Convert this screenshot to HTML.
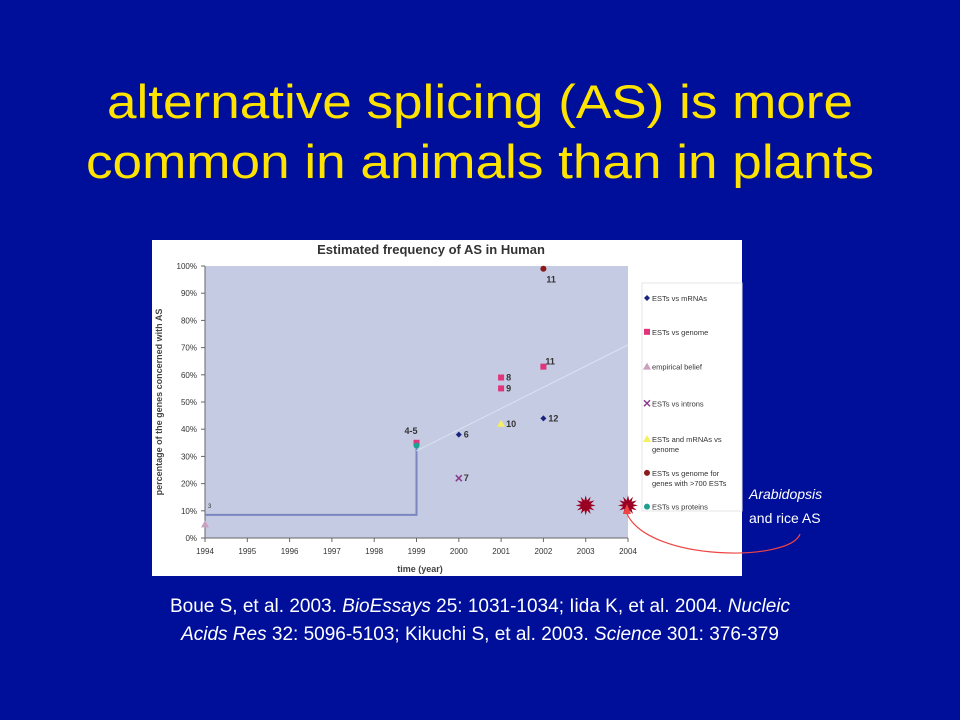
<!DOCTYPE html>
<html><head><meta charset="utf-8"><style>
html,body{margin:0;padding:0;background:#000f99;}
svg{display:block;font-family:"Liberation Sans",Arial,sans-serif;}
</style></head><body>
<svg width="960" height="720" viewBox="0 0 960 720">
<rect x="0" y="0" width="960" height="720" fill="#000f99"/>
<text x="480" y="118" text-anchor="middle" fill="#ffe300" font-size="47" textLength="746" lengthAdjust="spacingAndGlyphs">alternative splicing (AS) is more</text>
<text x="480" y="178" text-anchor="middle" fill="#ffe300" font-size="47" textLength="788" lengthAdjust="spacingAndGlyphs">common in animals than in plants</text>

<g id="chart">
<rect x="152" y="240" width="590" height="336" fill="#ffffff"/>
<text x="431" y="254" text-anchor="middle" font-size="13" font-weight="bold" fill="#333">Estimated frequency of AS in Human</text>
<rect x="205" y="266" width="423" height="272" fill="#c5cbe3"/>
<g id="axes"></g>
<g id="marks"></g>
<text x="420" y="572" text-anchor="middle" font-size="9" font-weight="bold" fill="#444">time (year)</text>
<text transform="translate(162,402) rotate(-90)" text-anchor="middle" font-size="9" font-weight="bold" fill="#444">percentage of the genes concerned with AS</text>
<rect x="642" y="283" width="100" height="228" fill="#ffffff" stroke="#e4e4e4"/>
<g id="legend"></g>
</g>

<text x="749" y="499" fill="#fff" font-size="14" font-style="italic">Arabidopsis</text>
<text x="749" y="523" fill="#fff" font-size="14">and rice AS</text>
<path d="M800,534 C790,562 650,562 627,514" fill="none" stroke="#ee4444" stroke-width="1.2"/>
<path d="M627,504 L623,514 L631,514 Z" fill="#ee4444"/>

<text x="480" y="612" text-anchor="middle" fill="#fff" font-size="19">Boue S, et al. 2003. <tspan font-style="italic">BioEssays</tspan> 25: 1031-1034; Iida K, et al. 2004. <tspan font-style="italic">Nucleic</tspan></text>
<text x="480" y="640" text-anchor="middle" fill="#fff" font-size="19"><tspan font-style="italic">Acids Res</tspan> 32: 5096-5103; Kikuchi S, et al. 2003. <tspan font-style="italic">Science</tspan> 301: 376-379</text>
</svg>
<script>
const years=[1994,1995,1996,1997,1998,1999,2000,2001,2002,2003,2004];
const yTicks=[0,10,20,30,40,50,60,70,80,90,100];
const ptSeries=["mrna","genome","genome","genome","genome","empirical","introns","ests-mrnas","genome700","proteins","mrna","plant","plant"];
const ptYears=[2000,1999,2001,2001,2002,1994,2000,2001,2002,1999,2002,2003,2004];
const ptValues=[38,35,59,55,63,5,22,42,99,34,44,12,12];
const ptLabels=["6","4-5","8","9","11","","7","10","11","","12","",""];
const stepYears=[1994,1999,1999];
const stepValues=[8.5,8.5,34];
const trendYears=[1999,2004];
const trendValues=[32,71];
const legendLabels=[["ESTs vs mRNAs"],["ESTs  vs genome"],["empirical belief"],["ESTs vs introns"],["ESTs and mRNAs vs","genome"],["ESTs vs genome for","genes with >700 ESTs"],["ESTs vs proteins"]];
const legendKeys=["mrna","genome","empirical","introns","ests-mrnas","genome700","proteins"];

const NS="http://www.w3.org/2000/svg";
const X=y=>205+(y-1994)*42.3;
const Y=v=>538-v*2.72;
function mk(tag,attrs,parent){const e=document.createElementNS(NS,tag);for(const k in attrs)e.setAttribute(k,attrs[k]);parent.appendChild(e);return e;}
const axes=document.getElementById('axes'),marks=document.getElementById('marks'),leg=document.getElementById('legend');
let a=mk('line',{x1:205,y1:266,x2:205,y2:538,stroke:'#666'},axes);


a=mk('line',{x1:205,y1:538,x2:628,y2:538,stroke:'#666'},axes);


yTicks.forEach(v=>{
 mk('line',{x1:201,y1:Y(v),x2:205,y2:Y(v),stroke:'#666'},axes);
 const t=mk('text',{x:197,y:Y(v)+3,'text-anchor':'end','font-size':8,fill:'#333'},axes);
 t.textContent=v+'%';
 
 
});
years.forEach(y=>{
 mk('line',{x1:X(y),y1:538,x2:X(y),y2:542,stroke:'#666'},axes);
 const t=mk('text',{x:X(y),y:554,'text-anchor':'middle','font-size':8,fill:'#333'},axes);
 t.textContent=y;
 
 
});
let pl=mk('polyline',{points:stepYears.map((y,i)=>X(y)+','+Y(stepValues[i])).join(' '),fill:'none',stroke:'#7a86c0','stroke-width':2},marks);


pl=mk('polyline',{points:trendYears.map((y,i)=>X(y)+','+Y(trendValues[i])).join(' '),fill:'none',stroke:'#dde2f0','stroke-width':1},marks);


const colors={mrna:'#1a237e',genome:'#e0357a',empirical:'#c9a0c0',introns:'#8a3a8a','ests-mrnas':'#f5f060',genome700:'#8b1a1a',proteins:'#20a090',plant:'#990022'};
function marker(s,cx,cy,g){
 const c=colors[s];
 if(s==='mrna') return mk('path',{d:`M${cx},${cy-3}L${cx+3},${cy}L${cx},${cy+3}L${cx-3},${cy}Z`,fill:c},g);
 if(s==='genome') return mk('rect',{x:cx-3,y:cy-3,width:6,height:6,fill:c},g);
 if(s==='empirical'||s==='ests-mrnas') return mk('path',{d:`M${cx},${cy-4}L${cx+4},${cy+3}L${cx-4},${cy+3}Z`,fill:c},g);
 if(s==='introns') return mk('path',{d:`M${cx-3},${cy-3}L${cx+3},${cy+3}M${cx+3},${cy-3}L${cx-3},${cy+3}`,stroke:c,'stroke-width':1.5},g);
 if(s==='plant'){let d='';for(let i=0;i<24;i++){const r=i%2?5:10,an=i*Math.PI/12;d+=(i?'L':'M')+(cx+r*Math.cos(an)).toFixed(1)+','+(cy+r*Math.sin(an)).toFixed(1);}return mk('path',{d:d+'Z',fill:c},g);}
 return mk('circle',{cx:cx,cy:cy,r:3,fill:c},g);
}
ptValues.forEach((v,i)=>{
 const m=marker(ptSeries[i],X(ptYears[i]),Y(v),marks);
 
 
 if(ptLabels[i]){
  const lb=ptLabels[i];
  let dx=5,dy=3;
  if(lb==='4-5'){dx=-12;dy=-9;}
  if(ptSeries[i]==='genome700'){dx=3;dy=14;}
  if(lb==='11'&&ptSeries[i]==='genome'){dx=2;dy=-2;}
  const t=mk('text',{x:X(ptYears[i])+dx,y:Y(v)+dy,'font-size':9,'font-weight':'bold',fill:'#333'},marks);
  t.textContent=lb;
  
  
 }
});
const t3=mk('text',{x:208,y:508,'font-size':6,fill:'#333'},marks);
t3.textContent='3';


const legY=[306,342,379,417,456,494,530].map(v=>238+(v-238)*0.96);
const legYs=[307,343,379,417,455,492,529].map((v,i)=>[305,342,379,417,455,492,528][i]);
legendKeys.forEach((k,i)=>{
 const yy=[305,341,378,417,455,491,527][i]-238;
 const ly=238+yy*0.94;
 const m=marker(k,647,ly-3,leg);
 
 
 legendLabels[i].forEach((s,j)=>{
  const t=mk('text',{x:652,y:ly+j*10,'font-size':7.5,fill:'#333'},leg);
  t.textContent=s;
  
  
 });
});
</script>
</body></html>
